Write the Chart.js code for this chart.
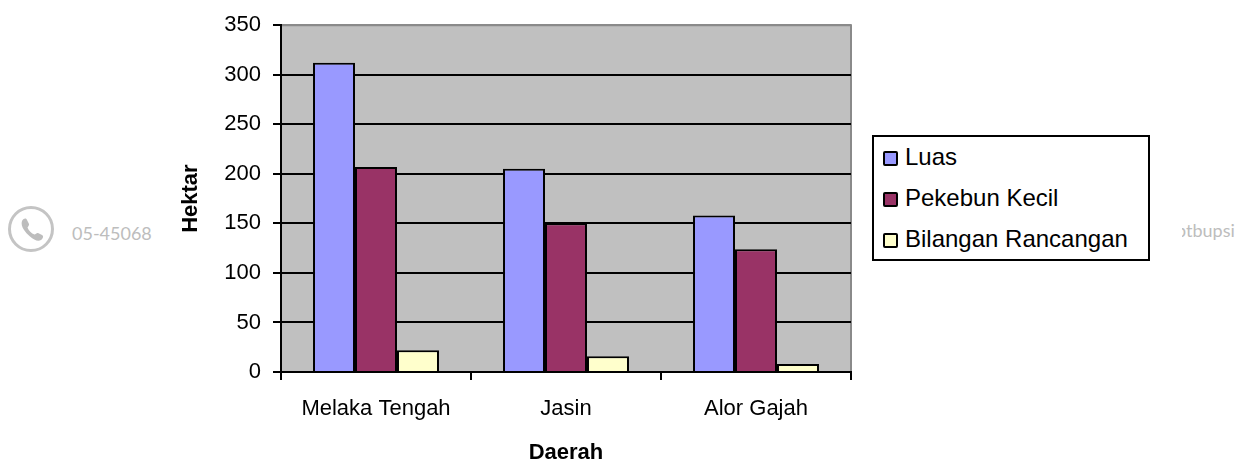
<!DOCTYPE html>
<html>
<head>
<meta charset="utf-8">
<style>
  html, body { margin: 0; padding: 0; background: #fff; }
  #wrap { position: relative; width: 1255px; height: 466px; overflow: hidden; font-family: "Liberation Sans", Arial, sans-serif; }
  canvas { position: absolute; left: 0; top: 0; }
  .mark { position: absolute; color: #bdbdbd; font-family: Lato, sans-serif; font-size: 18px; white-space: nowrap; }
  #phone { position: absolute; left: 8px; top: 206px; }
  #legend { position: absolute; left: 872px; top: 135px; width: 274px; height: 122px; border: 2px solid #000; background: #fff; color: #000; font-size: 24px; }
  .row { position: absolute; left: 9px; height: 28px; line-height: 28px; white-space: nowrap; }
  .swatch { position: absolute; left: 0; top: 8px; width: 11px; height: 11px; border: 2px solid #000; border-radius: 2px; }
  .row span { margin-left: 22px; }
</style>
</head>
<body>
<div id="wrap">
  <svg id="phone" width="48" height="48" viewBox="0 0 48 48">
    <circle cx="23" cy="23" r="21.5" fill="none" stroke="#c4c4c4" stroke-width="3"/>
    <path d="M14 15c2-3 4-3 5-1l2 4c.5 1-1 2.500-1.500 3.500 1 3 4 6 7 7 1-.5 2.500-2 3.500-1.500l4 2c2 1 1 3.500-1 5-3 2-7 0-11-3.500-4-3.500-10-10-8-15.500z" fill="#bdbdbd"/>
  </svg>
  <div class="mark" style="left:72px;top:222px">05-45068</div>
  <div class="mark" style="left:1182px;top:219px;width:64px;overflow:hidden"><div style="margin-left:-6px">ptbupsi</div></div>
  <canvas id="chart" width="1255" height="466"></canvas>
  <div id="legend"></div>
</div>
<script src="https://cdn.jsdelivr.net/npm/chart.js@4"></script>
<script>
const categories = ["Melaka Tengah", "Jasin", "Alor Gajah"];
const luas = [312, 205, 158];
const pekebunKecil = [207, 150, 124];
const bilanganRancangan = [22, 16, 8];

const axisFont = { family: "'Liberation Sans', Arial, sans-serif", size: 22 };
const titleFont = { family: "'Liberation Sans', Arial, sans-serif", size: 22, weight: 'bold' };

// grey plot background and the top/right border
const plotBack = {
  id: 'plotBack',
  beforeDraw(chart) {
    const { ctx, chartArea: a } = chart;
    ctx.save();
    ctx.fillStyle = '#c0c0c0';
    ctx.fillRect(a.left, a.top, a.width, a.height);
    ctx.strokeStyle = '#8a8a8a';
    ctx.lineWidth = 2;
    ctx.beginPath();
    ctx.moveTo(a.left, a.top);
    ctx.lineTo(a.right, a.top);
    ctx.lineTo(a.right, a.bottom);
    ctx.stroke();
    ctx.restore();
  }
};

function barSet(label, data, color) {
  return {
    label: label,
    data: data,
    backgroundColor: color,
    borderColor: '#000',
    borderWidth: 2,
    barPercentage: 1,
    categoryPercentage: 0.663
  };
}

const chart = new Chart(document.getElementById('chart'), {
  type: 'bar',
  plugins: [plotBack],
  data: {
    labels: categories,
    datasets: [
      barSet('Luas', luas, '#9999ff'),
      barSet('Pekebun Kecil', pekebunKecil, '#993366'),
      barSet('Bilangan Rancangan', bilanganRancangan, '#ffffcc')
    ]
  },
  options: {
    responsive: false,
    animation: false,
    layout: { padding: { top: 23, right: 404, bottom: 0, left: 0 } },
    plugins: { legend: { display: false }, tooltip: { enabled: false } },
    scales: {
      x: {
        afterFit(scale) { scale.height = 94; },
        border: { color: '#000', width: 2 },
        grid: { drawOnChartArea: false, color: '#000', lineWidth: 2, tickLength: 8, offset: true },
        ticks: { color: '#000', font: axisFont, padding: 16, maxRotation: 0 },
        title: { display: true, text: 'Daerah', color: '#000', font: titleFont, padding: { top: 0, bottom: 0 } }
      },
      y: {
        min: 0,
        max: 350,
        afterFit(scale) { scale.width = 281; },
        border: { color: '#000', width: 2 },
        grid: {
          color: (c) => (c.tick && c.tick.value === 350) ? '#8a8a8a' : '#000',
          tickColor: '#000',
          lineWidth: 2,
          tickLength: 8
        },
        ticks: { stepSize: 50, color: '#000', font: axisFont, padding: 12 },
        title: { display: true, text: 'Hektar', color: '#000', font: titleFont, padding: { top: 178, bottom: 0 } }
      }
    }
  }
});

// legend box built from the chart's own datasets
const legendBox = document.getElementById('legend');
chart.data.datasets.forEach((ds, i) => {
  const row = document.createElement('div');
  row.className = 'row';
  row.style.top = (6 + i * 41) + 'px';
  row.innerHTML = '<i class="swatch" style="background:' + ds.backgroundColor + '"></i><span>' + ds.label + '</span>';
  legendBox.appendChild(row);
});
</script>
</body>
</html>
